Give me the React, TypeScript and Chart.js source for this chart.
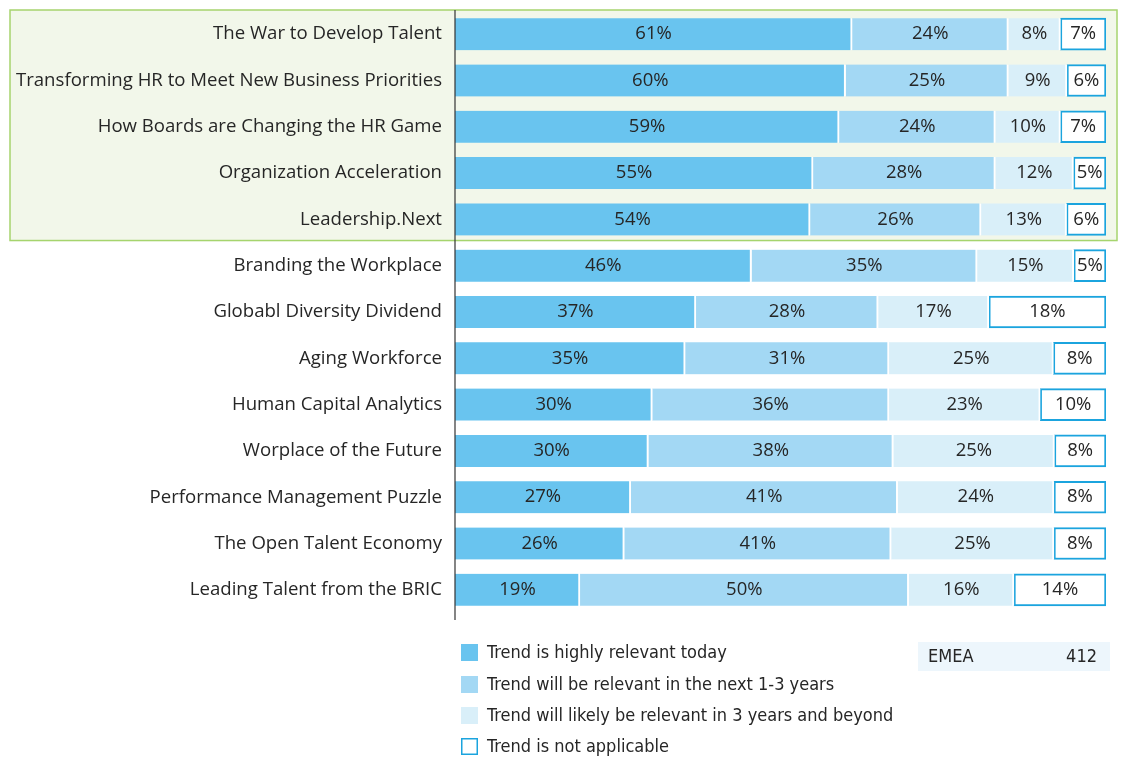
import React, { useEffect, useRef } from "react";
import { Chart, registerables } from "chart.js";

Chart.register(...registerables);

const categories = [
  "The War to Develop Talent",
  "Transforming HR to Meet New Business Priorities",
  "How Boards are Changing the HR Game",
  "Organization Acceleration",
  "Leadership.Next",
  "Branding the Workplace",
  "Globabl Diversity Dividend",
  "Aging Workforce",
  "Human Capital Analytics",
  "Worplace of the Future",
  "Performance Management Puzzle",
  "The Open Talent Economy",
  "Leading Talent from the BRIC",
];

const relevantToday = [61, 60, 59, 55, 54, 46, 37, 35, 30, 30, 27, 26, 19];
const relevantNext3 = [24, 25, 24, 28, 26, 35, 28, 31, 36, 38, 41, 41, 50];
const relevantBeyond = [8, 9, 10, 12, 13, 15, 17, 25, 23, 25, 24, 25, 16];
const notApplicable = [7, 6, 7, 5, 6, 5, 18, 8, 10, 8, 8, 8, 14];

const seriesNames = [
  "Trend is highly relevant today",
  "Trend will be relevant in the next 1-3 years",
  "Trend will likely be relevant in 3 years and beyond",
  "Trend is not applicable",
];

const highlightedRows = 5;
const regionLabel = "EMEA";
const regionCount = "412";

const C1 = "#69c4ef";
const C2 = "#a3d8f4";
const C3 = "#d9eff9";
const C4B = "#1ba4de";
const TEXT = "#262626";
const FONT = "'Open Sans', 'Noto Sans', sans-serif";
const NARROW = "'Liberation Sans Narrow', 'DejaVu Sans Condensed', 'Open Sans', sans-serif";

const allSeries = [relevantToday, relevantNext3, relevantBeyond, notApplicable];
const rowTotals = categories.map((_, i) =>
  allSeries.reduce((s, arr) => s + arr[i], 0)
);
const norm = (arr: number[]) => arr.map((v, i) => (v / rowTotals[i]) * 100);

export default function App() {
  const ref = useRef<HTMLCanvasElement | null>(null);

  useEffect(() => {
    if (!ref.current) return;

    const bgPlugin = {
      id: "bgPlugin",
      beforeDraw(chart: any) {
        const { ctx } = chart;
        const y = chart.scales.y;
        const half = (y.getPixelForValue(1) - y.getPixelForValue(0)) / 2;
        const top = y.getPixelForValue(0) - half - 1;
        const bottom = y.getPixelForValue(highlightedRows - 1) + half - 2;
        ctx.save();
        ctx.fillStyle = "#f2f7ea";
        ctx.fillRect(10, top, 1107, bottom - top);
        ctx.strokeStyle = "#a6d46e";
        ctx.lineWidth = 1.5;
        ctx.strokeRect(10, top, 1107, bottom - top);
        ctx.restore();
      },
      afterDraw(chart: any) {
        const { ctx, chartArea } = chart;
        ctx.save();
        // axis line
        ctx.strokeStyle = "#333";
        ctx.lineWidth = 1.2;
        ctx.beginPath();
        ctx.moveTo(chartArea.left, 10);
        ctx.lineTo(chartArea.left, 620);
        ctx.stroke();

        // legend
        const lx = 461;
        const ys = [652, 684, 715, 746];
        const fills = [C1, C2, C3, null];
        ctx.font = `18px ${NARROW}`;
        ctx.textBaseline = "middle";
        ctx.textAlign = "left";
        seriesNames.forEach((name, i) => {
          const f = fills[i];
          if (f) {
            ctx.fillStyle = f;
            ctx.fillRect(lx, ys[i] - 8, 17, 17);
          } else {
            ctx.fillStyle = "#fff";
            ctx.fillRect(lx, ys[i] - 8, 17, 17);
            ctx.strokeStyle = C4B;
            ctx.lineWidth = 1.5;
            ctx.strokeRect(lx + 0.75, ys[i] - 7.25, 15.5, 15.5);
          }
          ctx.fillStyle = TEXT;
          ctx.fillText(name, 487, ys[i] + 1);
        });

        // region box
        ctx.fillStyle = "#edf6fc";
        ctx.fillRect(918, 642, 192, 29);
        ctx.fillStyle = TEXT;
        ctx.textAlign = "left";
        ctx.fillText(regionLabel, 928, 657);
        ctx.textAlign = "right";
        ctx.fillText(regionCount, 1097, 657);
        ctx.restore();
      },
      afterDatasetsDraw(chart: any) {
        const { ctx } = chart;
        ctx.save();
        ctx.font = `18.5px ${FONT}`;
        ctx.fillStyle = TEXT;
        ctx.textAlign = "center";
        ctx.textBaseline = "middle";
        chart.data.datasets.forEach((ds: any, di: number) => {
          const meta = chart.getDatasetMeta(di);
          meta.data.forEach((el: any, i: number) => {
            const x = (el.x + el.base) / 2;
            ctx.fillText(`${allSeries[di][i]}%`, x, el.y);
          });
        });
        ctx.restore();
      },
    };

    const chart = new Chart(ref.current, {
      type: "bar",
      data: {
        labels: categories,
        datasets: [
          {
            label: seriesNames[0],
            data: norm(relevantToday),
            backgroundColor: C1,
            borderColor: "#ffffff",
            borderWidth: { right: 2 },
          },
          {
            label: seriesNames[1],
            data: norm(relevantNext3),
            backgroundColor: C2,
            borderColor: "#ffffff",
            borderWidth: { right: 2 },
          },
          {
            label: seriesNames[2],
            data: norm(relevantBeyond),
            backgroundColor: C3,
            borderColor: "#ffffff",
            borderWidth: { right: 2 },
          },
          {
            label: seriesNames[3],
            data: norm(notApplicable),
            backgroundColor: "#ffffff",
            borderColor: C4B,
            borderWidth: 2,
          },
        ] as any,
      },
      options: {
        indexAxis: "y",
        responsive: true,
        maintainAspectRatio: false,
        animation: false,
        layout: { padding: { top: 11, right: 22, bottom: 144, left: 0 } },
        datasets: {
          bar: { barThickness: 32, borderSkipped: false } as any,
        },
        plugins: {
          legend: { display: false },
          tooltip: { enabled: false },
        },
        scales: {
          x: {
            stacked: true,
            min: 0,
            max: 100,
            display: false,
          },
          y: {
            stacked: true,
            grid: { display: false, drawTicks: false },
            border: { display: false },
            ticks: {
              padding: 13,
              color: TEXT,
              font: { family: FONT, size: 18.6 },
            },
            afterFit(scale: any) {
              scale.width = 455;
              scale.paddingTop = 0;
              scale.paddingBottom = 0;
            },
          },
        },
      },
      plugins: [bgPlugin],
    });

    return () => chart.destroy();
  }, []);

  return (
    <div
      style={{
        position: "absolute",
        left: 0,
        top: 0,
        width: 1128,
        height: 757,
        background: "#fff",
      }}
    >
      <canvas ref={ref} />
    </div>
  );
}
